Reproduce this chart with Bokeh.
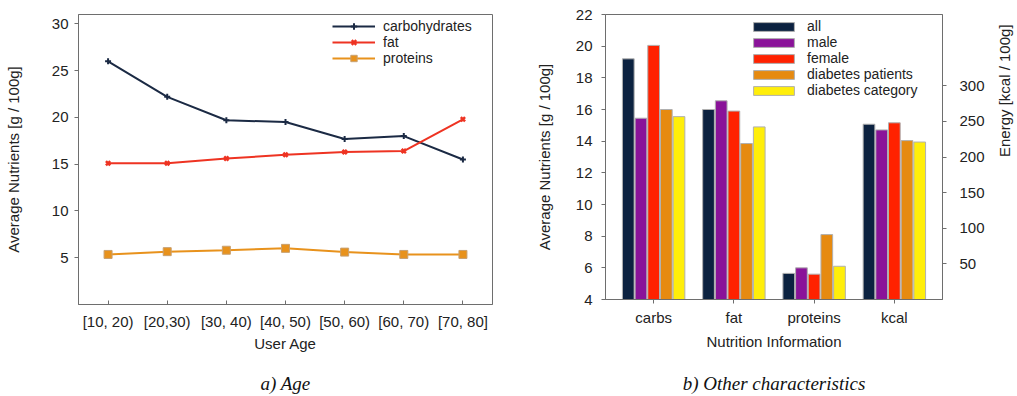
import math
from bokeh.plotting import figure
from bokeh.layouts import row
from bokeh.models import Range1d, LinearAxis, FixedTicker, Legend, LegendItem, ColumnDataSource
from bokeh.embed import file_html
from bokeh.resources import INLINE

FONT = "Liberation Sans"
TXT = "#222222"
FRAME = "#6e6e6e"

# ---------------- data: a) Age ----------------
age_groups = ["[10, 20)", "[20,30)", "[30, 40)", "[40, 50)", "[50, 60)", "[60, 70)", "[70, 80]"]
carbohydrates = [26.0, 22.2, 19.7, 19.5, 17.7, 18.0, 15.5]
fat = [15.1, 15.1, 15.6, 16.0, 16.3, 16.4, 19.8]
proteins = [5.35, 5.65, 5.8, 6.0, 5.6, 5.35, 5.35]
age_ticks = [5, 10, 15, 20, 25, 30]

# ---------------- data: b) Other characteristics ----------------
nutrition_labels = ["carbs", "fat", "proteins", "kcal"]
series_names = ["all", "male", "female", "diabetes patients", "diabetes category"]
carbs_values = [19.2, 15.45, 20.05, 16.0, 15.55]
fat_values = [16.0, 16.55, 15.9, 13.85, 14.9]
protein_values = [5.65, 6.0, 5.6, 8.1, 6.1]
kcal_values = [246, 238, 248, 223, 221]
nutrient_ticks = [4, 6, 8, 10, 12, 14, 16, 18, 20, 22]
energy_ticks = [50, 100, 150, 200, 250, 300]
series_colors = ["#0c2240", "#8a1399", "#ff2200", "#e68a10", "#ffee0a"]


def style_axis(ax):
    ax.major_label_text_font = FONT
    ax.major_label_text_font_size = "15px"
    ax.major_label_text_color = TXT
    ax.axis_label_text_font = FONT
    ax.axis_label_text_font_size = "15px"
    ax.axis_label_text_font_style = "normal"
    ax.axis_label_text_color = TXT
    ax.axis_line_color = FRAME
    ax.major_tick_line_color = FRAME
    ax.minor_tick_line_color = None


def caption_axis(text, standoff):
    ax = LinearAxis(ticker=FixedTicker(ticks=[]), axis_label=text)
    ax.axis_line_color = None
    ax.major_tick_line_color = None
    ax.minor_tick_line_color = None
    ax.major_tick_out = 0
    ax.major_label_standoff = 0
    ax.axis_label_standoff = standoff
    ax.axis_label_text_font = "Liberation Serif"
    ax.axis_label_text_font_style = "italic"
    ax.axis_label_text_font_size = "19px"
    ax.axis_label_text_color = "#111111"
    return ax


# ================= left chart =================
p1 = figure(frame_width=414, frame_height=290, x_range=Range1d(-0.5, 6.5), y_range=Range1d(0, 31),
            output_backend="svg", toolbar_location=None,
            min_border_left=78, min_border_right=28, min_border_top=14, min_border_bottom=92)
p1.grid.visible = False
p1.outline_line_color = FRAME
style_axis(p1.xaxis[0])
style_axis(p1.yaxis[0])
p1.xaxis.ticker = FixedTicker(ticks=list(range(len(age_groups))))
p1.xaxis.major_label_overrides = {i: lab for i, lab in enumerate(age_groups)}
p1.xaxis.major_tick_in = 4
p1.xaxis.major_tick_out = 0
p1.xaxis.major_label_standoff = 8
p1.xaxis.axis_label = "User Age"
p1.xaxis.axis_label_standoff = 2
p1.yaxis.ticker = FixedTicker(ticks=age_ticks)
p1.yaxis.major_tick_in = 0
p1.yaxis.major_tick_out = 4
p1.yaxis.major_label_standoff = 6
p1.yaxis.axis_label = "Average Nutrients [g / 100g]"
p1.yaxis.axis_label_standoff = 27
p1.add_layout(caption_axis("a) Age", 18), "below")

xs = list(range(len(age_groups)))
c_carb, c_fat, c_prot = "#1b2a44", "#ee3322", "#e8921c"
l1 = p1.line(xs, carbohydrates, line_color=c_carb, line_width=2)
s1 = p1.scatter(xs, carbohydrates, marker="cross", size=6, line_color=c_carb, line_width=2)
l2 = p1.line(xs, fat, line_color=c_fat, line_width=2)
s2 = p1.scatter(xs, fat, marker="x", size=6, line_color=c_fat, line_width=2.5)
l3 = p1.line(xs, proteins, line_color=c_prot, line_width=2)
s3 = p1.scatter(xs, proteins, marker="square", size=8, fill_color=c_prot, line_color="#c8a070", line_width=1)

leg1 = Legend(items=[LegendItem(label="carbohydrates", renderers=[l1, s1]),
                     LegendItem(label="fat", renderers=[l2, s2]),
                     LegendItem(label="proteins", renderers=[l3, s3])],
              location=(254, 238), orientation="vertical",
              glyph_width=43, glyph_height=16, label_height=16, label_standoff=8,
              spacing=0, padding=0, margin=0, border_line_color=None, background_fill_alpha=0,
              label_text_font=FONT, label_text_font_size="14px", label_text_color=TXT)
p1.add_layout(leg1)

# ================= right chart =================
p2 = figure(frame_width=337, frame_height=285, x_range=Range1d(-0.6, 3.6), y_range=Range1d(4, 22),
            output_backend="svg", toolbar_location=None,
            min_border_left=85, min_border_right=75, min_border_top=12, min_border_bottom=99)
p2.grid.visible = False
p2.outline_line_color = FRAME
p2.extra_y_ranges = {"energy": Range1d(0, 400)}
style_axis(p2.xaxis[0])
style_axis(p2.yaxis[0])
p2.xaxis.ticker = FixedTicker(ticks=list(range(len(nutrition_labels))))
p2.xaxis.major_label_overrides = {i: lab for i, lab in enumerate(nutrition_labels)}
p2.xaxis.major_tick_in = 0
p2.xaxis.major_tick_out = 4
p2.xaxis.major_label_standoff = 5
p2.xaxis.axis_label = "Nutrition Information"
p2.xaxis.axis_label_standoff = 4
p2.yaxis.ticker = FixedTicker(ticks=nutrient_ticks)
p2.yaxis.major_tick_in = 0
p2.yaxis.major_tick_out = 4
p2.yaxis.major_label_standoff = 9
p2.yaxis.axis_label = "Average Nutrients [g / 100g]"
p2.yaxis.axis_label_standoff = 20

eax = LinearAxis(y_range_name="energy", ticker=FixedTicker(ticks=energy_ticks),
                 axis_label="Energy [kcal / 100g]")
style_axis(eax)
eax.major_tick_in = 0
eax.major_tick_out = 4
eax.major_label_standoff = 13
eax.axis_label_standoff = 17
eax.axis_label_orientation = math.pi / 2
p2.add_layout(eax, "right")
p2.add_layout(caption_axis("b) Other characteristics", 20), "below")

n = len(series_names)
step, bw = 0.158, 0.146
items = []
for i, name in enumerate(series_names):
    off = (i - (n - 1) / 2) * step
    src = ColumnDataSource(dict(x=[k + off for k in range(3)],
                                top=[carbs_values[i], fat_values[i], protein_values[i]]))
    r = p2.vbar(x="x", top="top", bottom=0, width=bw, source=src,
                fill_color=series_colors[i], line_color="#b0b0b0", line_width=1)
    srck = ColumnDataSource(dict(x=[3 + off], top=[kcal_values[i]]))
    p2.vbar(x="x", top="top", bottom=0, width=bw, source=srck, y_range_name="energy",
            fill_color=series_colors[i], line_color="#b0b0b0", line_width=1)
    items.append(LegendItem(label=name, renderers=[r]))

leg2 = Legend(items=items, location=(143, 201), orientation="vertical",
              glyph_width=51, glyph_height=11, label_height=16, label_standoff=8,
              spacing=0, padding=0, margin=0, border_line_color=None, background_fill_alpha=0,
              label_text_font=FONT, label_text_font_size="14px", label_text_color=TXT)
p2.add_layout(leg2)

layout = row(p1, p2)
open("out.html", "w").write(file_html(layout, INLINE))
